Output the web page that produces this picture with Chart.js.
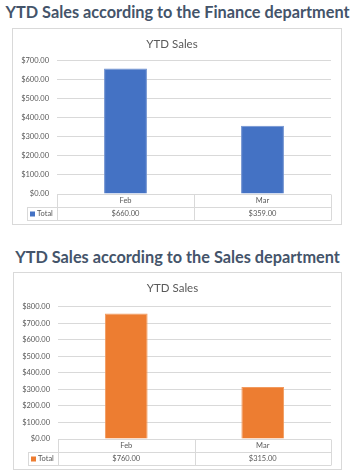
<!DOCTYPE html>
<html>
<head>
<meta charset="utf-8">
<script src="https://cdn.jsdelivr.net/npm/chart.js@4/dist/chart.umd.min.js"></script>
<style>
  html, body { margin: 0; padding: 0; background: #ffffff; }
  body { width: 355px; height: 474px; position: relative; overflow: hidden; }
  .heading { position: absolute; left: 0; width: 355px; text-align: center; white-space: nowrap;
    font-family: Lato, "Open Sans", sans-serif; font-weight: bold; color: #44546A; font-size: 16.3px; line-height: 20px; }
  .box { position: absolute; border: 1px solid #D9D9D9; box-sizing: border-box; background: #fff; }
  .box canvas { display: block; }
</style>
</head>
<body>
<div class="heading" id="h1" style="top:2px;">YTD Sales according to the Finance department</div>
<div class="box" style="left:12px; top:28px; width:330px; height:197px;"><canvas id="c1"></canvas></div>
<div class="heading" id="h2" style="top:247px;">YTD Sales according to the Sales department</div>
<div class="box" style="left:13px; top:272px; width:329px; height:198px;"><canvas id="c2"></canvas></div>
<script>
const categories = ['Feb', 'Mar'];
const financeValues = [660, 359];
const salesValues = [760, 315];
const seriesName = 'Total';
const chartTitle = 'YTD Sales';
const financeTickMax = 700;
const salesTickMax = 800;
const tickStep = 100;

const fmt = v => '$' + Number(v).toFixed(2);
const FONT = 'Lato, "Open Sans", sans-serif';
const GRID = '#D9D9D9';
const TEXT = '#595959';

const tablePlugin = {
  id: 'dataTable',
  afterDraw(chart) {
    const ctx = chart.ctx;
    const x = chart.scales.x;
    const area = chart.chartArea;
    const rowH = 13;
    const top = area.bottom;
    const r1 = top + rowH, r2 = top + 2 * rowH;
    const n = chart.data.labels.length;
    const edges = [x.left];
    for (let i = 0; i < n - 1; i++) edges.push((x.getPixelForValue(i) + x.getPixelForValue(i + 1)) / 2);
    edges.push(x.right);
    const legL = x.left - 30;
    ctx.save();
    ctx.strokeStyle = GRID;
    ctx.lineWidth = 1;
    ctx.beginPath();
    const h = v => Math.round(v) + 0.5;
    ctx.moveTo(x.left, h(top)); ctx.lineTo(x.right, h(top));
    ctx.moveTo(legL, h(r1)); ctx.lineTo(x.right, h(r1));
    ctx.moveTo(legL, h(r2)); ctx.lineTo(x.right, h(r2));
    ctx.moveTo(h(legL), h(r1)); ctx.lineTo(h(legL), h(r2));
    edges.forEach(e => { ctx.moveTo(h(e), h(top)); ctx.lineTo(h(e), h(r2)); });
    ctx.stroke();
    ctx.font = '7.5px ' + FONT;
    ctx.fillStyle = TEXT;
    ctx.textAlign = 'center';
    ctx.textBaseline = 'middle';
    const ds = chart.data.datasets[0];
    chart.data.labels.forEach((lab, i) => {
      const cx = x.getPixelForValue(i);
      ctx.fillText(lab, cx, top + rowH / 2 + 0.5);
      ctx.fillText(fmt(ds.data[i]), cx, r1 + rowH / 2 + 0.5);
    });
    ctx.fillStyle = ds.backgroundColor;
    ctx.fillRect(legL + 3, r1 + 4.5, 5, 5);
    ctx.fillStyle = TEXT;
    ctx.textAlign = 'left';
    ctx.fillText(ds.label, legL + 10, r1 + rowH / 2 + 0.5);
    ctx.restore();
  }
};

function makeChart(id, values, color, border, maxV, titlePadTop, titlePadBot, padBottom) {
  const canvas = document.getElementById(id);
  return new Chart(canvas, {
    type: 'bar',
    data: {
      labels: categories,
      datasets: [{
        label: seriesName,
        data: values,
        backgroundColor: color,
        borderColor: border,
        borderWidth: 1,
        borderSkipped: 'bottom',
        categoryPercentage: 1,
        barPercentage: 0.313
      }]
    },
    options: {
      responsive: false,
      animation: false,
      devicePixelRatio: 1,
      layout: { padding: { left: 0, right: 10, top: 0, bottom: padBottom } },
      plugins: {
        legend: { display: false },
        tooltip: { enabled: false },
        title: {
          display: true, text: chartTitle, color: TEXT,
          font: { family: FONT, size: 11.5, weight: 'normal' },
          padding: { top: titlePadTop, bottom: titlePadBot }
        }
      },
      scales: {
        x: {
          grid: { display: false, drawTicks: false },
          border: { display: false },
          ticks: { display: false },
          afterFit(s) { s.height = 26; }
        },
        y: {
          min: 0, max: maxV,
          ticks: { stepSize: tickStep, color: TEXT, padding: 8, font: { family: FONT, size: 7.5 }, callback: v => fmt(v) },
          grid: { color: GRID, drawTicks: false },
          border: { display: false },
          afterFit(s) { s.width = 44; }
        }
      }
    },
    plugins: [tablePlugin]
  });
}

const c1 = document.getElementById('c1'); c1.width = 328; c1.height = 195;
const c2 = document.getElementById('c2'); c2.width = 327; c2.height = 196;
makeChart('c1', financeValues, '#4472C4', '#6F91D0', financeTickMax, 8, 10, 4);
makeChart('c2', salesValues, '#ED7D31', '#F29A5E', salesTickMax, 8, 12, 4);
</script>
</body>
</html>
